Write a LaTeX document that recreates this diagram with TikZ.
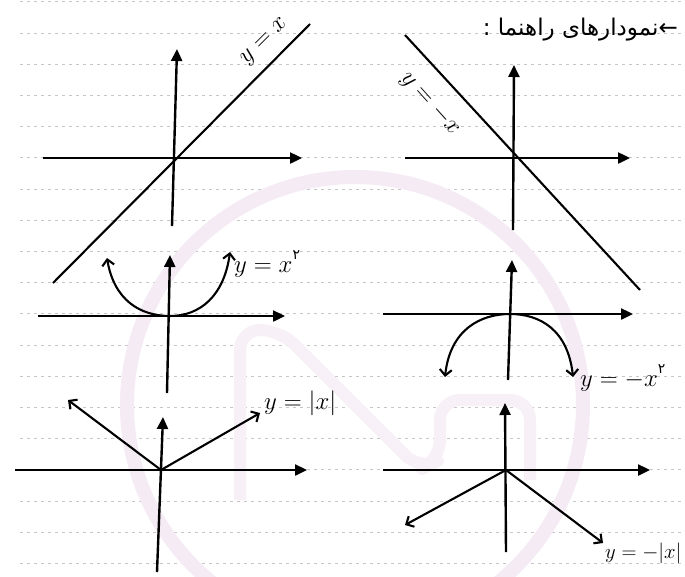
\documentclass[tikz,border=0pt]{standalone}
\usepackage{fontspec}
\usetikzlibrary{arrows.meta}
\TeXXeTstate=1
\newfontfamily\arabicfont[Script=Arabic]{DejaVu Sans}
\begin{document}
\begin{tikzpicture}[x=1pt,y=-1pt,
  axis/.style={line width=2.4pt,-{Triangle[length=12pt,width=11pt]}},
  curve/.style={line width=2.1pt},
  open/.style={line width=2.1pt,{Straight Barb[length=6pt,width=12pt]}-{Straight Barb[length=6pt,width=12pt]}},
  ray/.style={line width=2.1pt,-{Straight Barb[length=6pt,width=12pt]}},
  rule/.style={gray!45,line width=0.9pt,dash pattern=on 3pt off 4pt},
  lab/.style={font=\fontsize{24}{28}\selectfont,inner sep=0pt}]
\useasboundingbox (0,0) rectangle (685,576);
\clip (0,0) rectangle (685,576);
\fill[white] (0,0) rectangle (685,576);
% ruled paper
\foreach \k in {-1,...,17}
  \draw[rule] (20,{33+31.2*\k}) -- (685,{33+31.2*\k});
% faint watermark
\draw[violet!8,line width=14pt] (355,405) circle[radius=228];
\draw[violet!6,line width=12pt,line join=round,rounded corners=20pt]
  (240,500) -- (240,330) -- (280,330) -- (420,470) -- (440,460) -- (440,400) -- (530,400) -- (530,480);
% heading
\node[anchor=east,font=\arabicfont\fontsize{23}{26}\selectfont,inner sep=0pt] (head) at (678,30)
  {\beginR ←نمودارهای راهنما :\endR};
% ---- graph 1: y = x
\coordinate (o1) at (173,158);
\coordinate (x1a) at (43,158);  \coordinate (x1b) at (302,158);
\coordinate (y1a) at (172,226); \coordinate (y1b) at (177,49);
\coordinate (l1a) at (53,283);  \coordinate (l1b) at (310,24);
\draw[axis] (x1a) -- (x1b);
\draw[axis] (y1a) -- (y1b);
\draw[curve] (l1a) -- (l1b);
\node[lab,rotate=45] (t1) at (265,42) {$y=x$};
% ---- graph 2: y = -x
\coordinate (o2) at (513,158);
\coordinate (x2a) at (405,158); \coordinate (x2b) at (630,158);
\coordinate (y2a) at (513,230); \coordinate (y2b) at (514,65);
\coordinate (l2a) at (405,35);  \coordinate (l2b) at (640,290);
\draw[axis] (x2a) -- (x2b);
\draw[axis] (y2a) -- (y2b);
\draw[curve] (l2a) -- (l2b);
\node[lab,rotate=-48] (t2) at (430,104) {$y=-x$};
% ---- graph 3: y = x^2
\coordinate (o3) at (170,316);
\coordinate (x3a) at (38,316);  \coordinate (x3b) at (285,316);
\coordinate (y3a) at (167,393); \coordinate (y3b) at (170,255);
\coordinate (p3a) at (107,258); \coordinate (p3b) at (230,252);
\draw[axis] (x3a) -- (x3b);
\draw[axis] (y3a) -- (y3b);
\draw[open] (p3a) .. controls (114,300) and (140,316) .. (o3) .. controls (200,316) and (224,296) .. (p3b);
\node[lab,anchor=west] (t3) at (234,264) {$y=x$\raisebox{1.2ex}{\arabicfont\fontsize{14}{16}\selectfont ۲}};
% ---- graph 4: y = -x^2
\coordinate (o4) at (510,314);
\coordinate (x4a) at (383,314); \coordinate (x4b) at (633,314);
\coordinate (y4a) at (508,380); \coordinate (y4b) at (512,260);
\coordinate (p4a) at (445,377); \coordinate (p4b) at (573,377);
\draw[axis] (x4a) -- (x4b);
\draw[axis] (y4a) -- (y4b);
\draw[open] (p4a) .. controls (450,330) and (480,314) .. (o4) .. controls (540,314) and (568,330) .. (p4b);
\node[lab,anchor=west] (t4) at (580,378) {$y=-x$\raisebox{1.2ex}{\arabicfont\fontsize{14}{16}\selectfont ۲}};
% ---- graph 5: y = |x|
\coordinate (o5) at (161,470);
\coordinate (x5a) at (15,470);  \coordinate (x5b) at (307,470);
\coordinate (y5a) at (157,572); \coordinate (y5b) at (163,417);
\coordinate (r5a) at (68,400);  \coordinate (r5b) at (260,413);
\draw[axis] (x5a) -- (x5b);
\draw[axis] (y5a) -- (y5b);
\draw[ray] (o5) -- (r5a);
\draw[ray] (o5) -- (r5b);
\node[lab,anchor=west] (t5) at (264,403) {$y=|x|$};
% ---- graph 6: y = -|x|
\coordinate (o6) at (506,470);
\coordinate (x6a) at (383,470); \coordinate (x6b) at (650,470);
\coordinate (y6a) at (506,552); \coordinate (y6b) at (505,403);
\coordinate (r6a) at (405,525); \coordinate (r6b) at (603,543);
\draw[axis] (x6a) -- (x6b);
\draw[axis] (y6a) -- (y6b);
\draw[ray] (o6) -- (r6a);
\draw[ray] (o6) -- (r6b);
\node[lab,anchor=west,font=\fontsize{21}{25}\selectfont] (t6) at (605,553) {$y=-|x|$};
\end{tikzpicture}
\end{document}
